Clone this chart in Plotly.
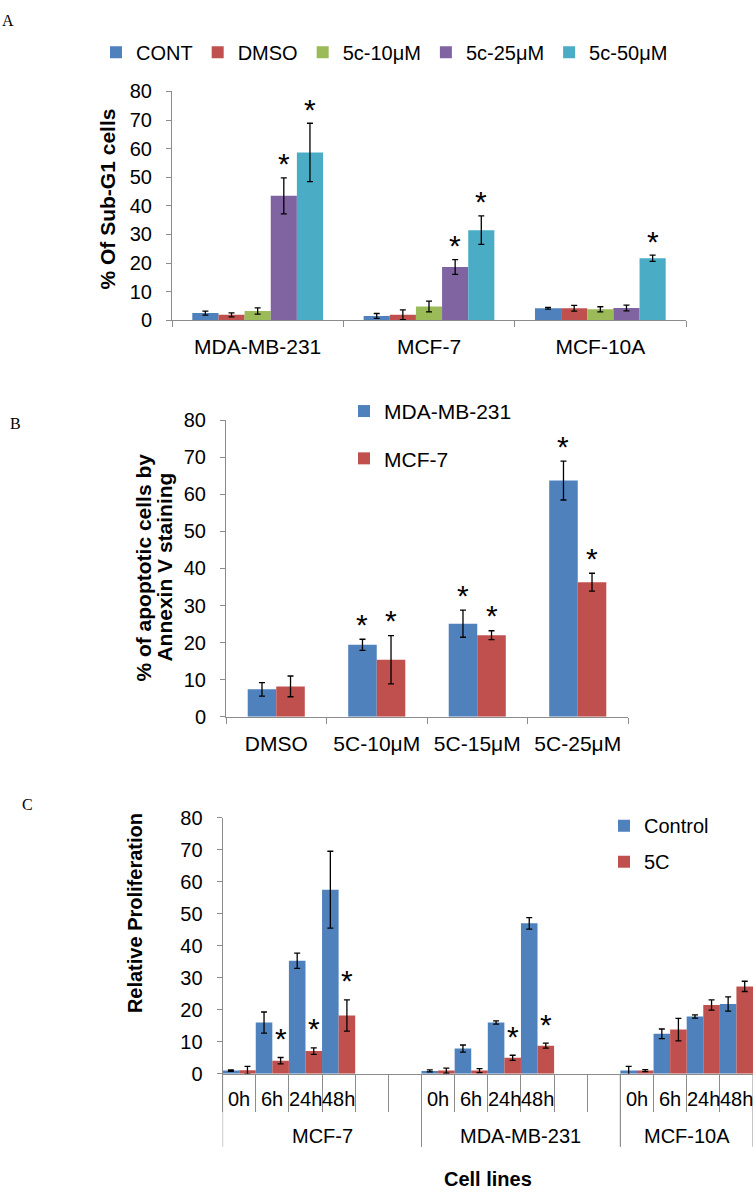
import plotly.graph_objects as go

W, H = 753, 1198
FONT = "Liberation Sans, Arial, sans-serif"
SERIF = "Liberation Serif, Times New Roman, serif"
GREY = "#8c8c8c"
BLUE, RED, GREEN, PURPLE, AQUA = "#4F81BD", "#C0504D", "#9BBB59", "#8064A2", "#4BACC6"

# ---------------- Panel A data ----------------
a_cells = ["MDA-MB-231", "MCF-7", "MCF-10A"]
a_names = ["CONT", "DMSO", "5c-10μM", "5c-25μM", "5c-50μM"]
a_cont = [2.5, 1.5, 4.2]
a_cont_err = [0.7, 0.85, 0.3]
a_dmso = [1.9, 1.9, 4.2]
a_dmso_err = [0.7, 1.7, 1.0]
a_5c10 = [3.2, 4.8, 3.8]
a_5c10_err = [1.1, 1.9, 0.9]
a_5c25 = [43.5, 18.6, 4.3]
a_5c25_err = [6.3, 2.6, 1.0]
a_5c50 = [58.7, 31.5, 21.7]
a_5c50_err = [10.2, 5.0, 1.1]
a_stars_5c25 = ["MDA-MB-231", "MCF-7"]
a_stars_5c50 = ["MDA-MB-231", "MCF-7", "MCF-10A"]

# ---------------- Panel B data ----------------
b_treat = ["DMSO", "5C-10μM", "5C-15μM", "5C-25μM"]
b_mda = [7.4, 19.4, 25.1, 63.7]
b_mda_err = [1.8, 1.5, 3.65, 5.25]
b_mcf7 = [8.2, 15.4, 22.0, 36.3]
b_mcf7_err = [2.8, 6.5, 1.2, 2.4]
b_stars_mda = ["5C-10μM", "5C-15μM", "5C-25μM"]
b_stars_mcf7 = ["5C-10μM", "5C-15μM", "5C-25μM"]

# ---------------- Panel C data ----------------
c_outer = ["MCF-7"] * 6 + ["MDA-MB-231"] * 6 + ["MCF-10A"] * 4
c_inner = ["0h", "6h", "24h", "48h", " ", "  ",
           "0h", "6h", "24h", "48h", " ", "  ",
           "0h", "6h", "24h", "48h"]
c_control = [1.0, 16.0, 35.3, 57.5, None, None, 0.9, 7.9, 16.0, 47.0, None, None, 1.0, 12.5, 17.9, 21.8]
c_control_err = [0.2, 3.3, 2.4, 12.0, None, None, 0.3, 1.1, 0.5, 1.8, None, None, 1.3, 1.5, 0.5, 2.2]
c_5c = [1.1, 4.1, 7.1, 18.2, None, None, 1.0, 1.0, 5.0, 8.8, None, None, 1.0, 13.8, 21.5, 27.3]
c_5c_err = [1.2, 1.0, 1.0, 4.9, None, None, 0.8, 0.6, 0.8, 0.8, None, None, 0.3, 3.5, 1.6, 1.6]
c_stars_5c = [("MCF-7", "6h"), ("MCF-7", "24h"), ("MCF-7", "48h"),
              ("MDA-MB-231", "24h"), ("MDA-MB-231", "48h")]


def px_x(p):
    return p / W


def px_y(p):
    return 1 - p / H


err_style = dict(type="data", color="black", thickness=1.3, width=3)
fig = go.Figure()
annotations = []
shapes = []


def star(xref, yref, x, y, shift):
    # asterisk placed `shift` px above the top of the error bar
    annotations.append(dict(
        xref=xref, yref=yref, x=x, y=y, text="*", showarrow=False,
        xanchor="center", yanchor="middle", yshift=shift,
        font=dict(family=FONT, size=30, color="black"),
    ))


# ---------- Panel A ----------
a_vals = [a_cont, a_dmso, a_5c10, a_5c25, a_5c50]
a_errs = [a_cont_err, a_dmso_err, a_5c10_err, a_5c25_err, a_5c50_err]
a_cols = [BLUE, RED, GREEN, PURPLE, AQUA]
a_bw = 0.1526
a_start = -2.5 * a_bw
for k, name in enumerate(a_names):
    fig.add_trace(go.Bar(
        x=a_cells, y=a_vals[k], name=name, marker_color=a_cols[k],
        marker_line_width=0, width=a_bw, offset=a_start + k * a_bw,
        error_y=dict(array=a_errs[k], **err_style),
        xaxis="x", yaxis="y", legend="legend",
    ))
for k, lst in [(3, a_stars_5c25), (4, a_stars_5c50)]:
    for cell in lst:
        g = a_cells.index(cell)
        star("x", "y", g + a_start + (k + 0.5) * a_bw,
             a_vals[k][g] + a_errs[k][g], 14)

# ---------- Panel B ----------
b_bw = 0.284
fig.add_trace(go.Bar(
    x=b_treat, y=b_mda, name="MDA-MB-231", marker_color=BLUE, marker_line_width=0,
    width=b_bw, offset=-b_bw, error_y=dict(array=b_mda_err, **err_style),
    xaxis="x2", yaxis="y2", legend="legend2", legendgroup="b1",
))
fig.add_trace(go.Bar(
    x=b_treat, y=b_mcf7, name="MCF-7", marker_color=RED, marker_line_width=0,
    width=b_bw, offset=0, error_y=dict(array=b_mcf7_err, **err_style),
    xaxis="x2", yaxis="y2", legend="legend2", legendgroup="b2",
))
for t in b_stars_mda:
    g = b_treat.index(t)
    star("x2", "y2", g - b_bw / 2, b_mda[g] + b_mda_err[g], 15)
for t in b_stars_mcf7:
    g = b_treat.index(t)
    star("x2", "y2", g + b_bw / 2, b_mcf7[g] + b_mcf7_err[g], 15)

# ---------- Panel C ----------
c_slots = [f"{o}|{i}" for o, i in zip(c_outer, c_inner)]  # unique slot ids
fig.add_trace(go.Bar(
    x=c_slots, y=c_control, name="Control", marker_color=BLUE,
    marker_line_width=0, width=0.5, offset=-0.5,
    error_y=dict(array=c_control_err, **err_style),
    xaxis="x3", yaxis="y3", legend="legend3", legendgroup="c1",
))
fig.add_trace(go.Bar(
    x=c_slots, y=c_5c, name="5C", marker_color=RED,
    marker_line_width=0, width=0.5, offset=0,
    error_y=dict(array=c_5c_err, **err_style),
    xaxis="x3", yaxis="y3", legend="legend3", legendgroup="c2",
))
c_pairs = list(zip(c_outer, c_inner))
for pair in c_stars_5c:
    i = c_pairs.index(pair)
    star("x3", "y3", i + 0.25, c_5c[i] + c_5c_err[i], 19)

C_AXIS_Y = 1082.7
# inner (time) labels
for i, t in enumerate(c_inner):
    if t.strip():
        annotations.append(dict(
            xref="x3", yref="paper", x=i, y=px_y(1108), text=t, showarrow=False,
            xanchor="center", yanchor="middle",
            font=dict(family=FONT, size=20, color="black"),
        ))
# outer (cell line) labels and group dividers
groups = []
for o in c_outer:
    if o not in groups:
        groups.append(o)
for o in groups:
    idx = [i for i, v in enumerate(c_outer) if v == o]
    annotations.append(dict(
        xref="x3", yref="paper", x=(idx[0] + idx[-1]) / 2, y=px_y(1146), text=o,
        showarrow=False, xanchor="center", yanchor="middle",
        font=dict(family=FONT, size=20, color="black"),
    ))
    for b in (idx[0] - 0.5, idx[-1] + 0.5):
        shapes.append(dict(
            type="line", xref="x3", yref="paper", x0=b, x1=b,
            y0=px_y(C_AXIS_Y), y1=px_y(1157), line=dict(color=GREY, width=1),
        ))


# ---------- text annotations ----------
def label(text, x, y, size, family=FONT, bold=False, angle=0):
    annotations.append(dict(
        xref="paper", yref="paper", x=px_x(x), y=px_y(y),
        text=f"<b>{text}</b>" if bold else text, showarrow=False,
        xanchor="center", yanchor="middle", textangle=angle,
        font=dict(family=family, size=size, color="black"),
    ))


label("A", 8, 10, 16, SERIF)
label("B", 16, 420, 16, SERIF)
label("C", 27, 808, 16, SERIF)
label("% Of Sub-G1 cells", 107, 192, 21, bold=True, angle=-90)
label("% of apoptotic cells by", 144, 567, 21, bold=True, angle=-90)
label("Annexin V staining", 165, 567, 21, bold=True, angle=-90)
label("Relative Proliferation", 135, 919, 20, bold=True, angle=-90)
label("Cell lines", 488, 1190, 20, bold=True)

yaxis_common = dict(
    range=[0, 80], dtick=10, showline=True, linecolor=GREY, linewidth=1,
    ticks="outside", ticklen=5, tickcolor=GREY, showgrid=False, zeroline=False,
    tickfont=dict(family=FONT, size=20, color="black"), ticklabelstandoff=10,
)
xaxis_common = dict(
    showline=True, linecolor=GREY, linewidth=1, ticks="outside", tickcolor=GREY,
    tickson="boundaries", showgrid=False, zeroline=False, tickangle=0,
    tickfont=dict(family=FONT, size=21, color="black"),
)

fig.update_layout(
    width=W, height=H, margin=dict(l=0, r=0, t=0, b=0),
    paper_bgcolor="white", plot_bgcolor="white", barmode="overlay",
    font=dict(family=FONT, color="black"),
    xaxis=dict(domain=[px_x(172), px_x(686)], anchor="y", type="category",
               categoryorder="array", categoryarray=a_cells, range=[-0.5, 2.5],
               ticklen=6, ticklabelstandoff=8, **xaxis_common),
    yaxis=dict(domain=[px_y(315), px_y(82)], anchor="x", **yaxis_common),
    xaxis2=dict(domain=[px_x(226), px_x(628)], anchor="y2", type="category",
                categoryorder="array", categoryarray=b_treat, range=[-0.5, 3.5],
                ticklen=6, ticklabelstandoff=8, **xaxis_common),
    yaxis2=dict(domain=[px_y(719), px_y(416.7)], anchor="x2", **yaxis_common),
    xaxis3=dict(domain=[px_x(222.6), 1.0], anchor="y3", type="category",
                categoryorder="array", categoryarray=c_slots,
                range=[-0.5, len(c_slots) - 0.5], ticklen=37, showticklabels=False,
                **xaxis_common),
    yaxis3=dict(domain=[px_y(C_AXIS_Y), px_y(821.7)], anchor="x3", **yaxis_common),
    legend=dict(orientation="h", x=px_x(96), y=px_y(42), xanchor="left", yanchor="middle",
                font=dict(family=FONT, size=20), itemwidth=30, bgcolor="rgba(0,0,0,0)"),
    legend2=dict(orientation="v", x=px_x(344), y=px_y(387), xanchor="left", yanchor="top",
                 font=dict(family=FONT, size=21), itemwidth=30, traceorder="grouped",
                 tracegroupgap=17, bgcolor="rgba(0,0,0,0)"),
    legend3=dict(orientation="v", x=px_x(604), y=px_y(810), xanchor="left", yanchor="top",
                 font=dict(family=FONT, size=20), itemwidth=30, traceorder="grouped",
                 tracegroupgap=7, bgcolor="rgba(0,0,0,0)"),
    annotations=annotations,
    shapes=shapes,
    showlegend=True,
)

fig.write_html(
    "out.html",
    config={"displayModeBar": False},
    post_script="document.body.style.margin='0';document.body.style.overflow='hidden';",
)
